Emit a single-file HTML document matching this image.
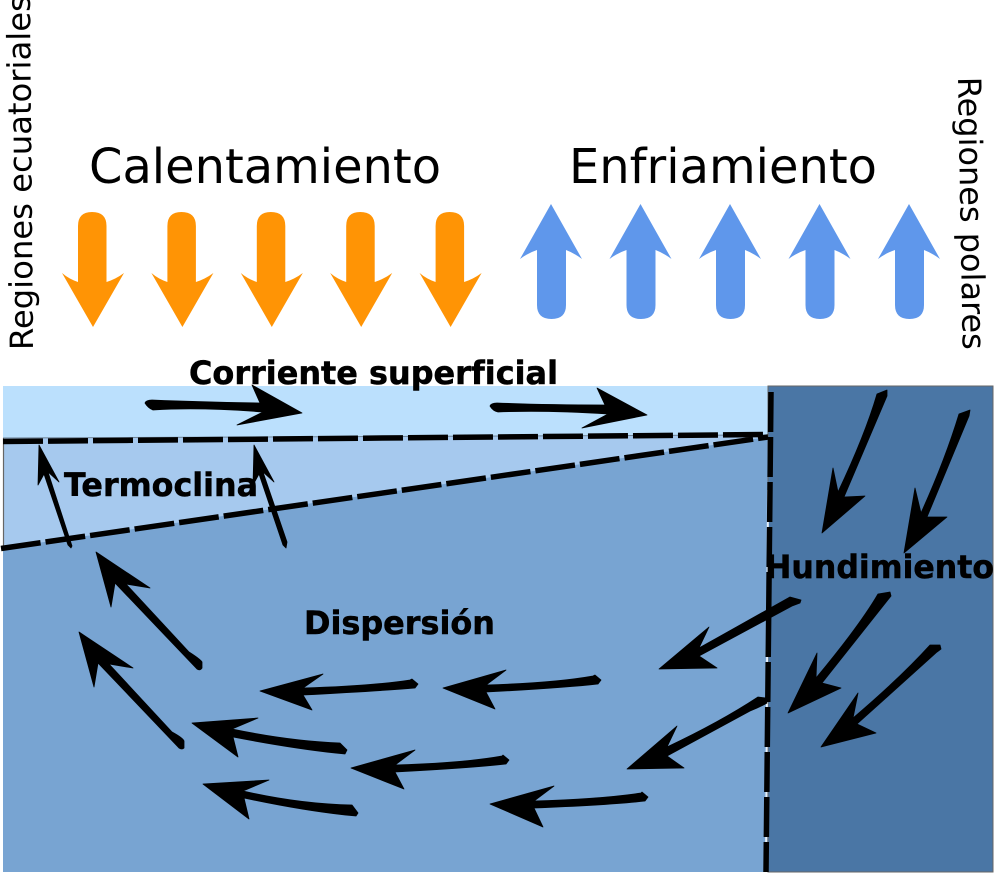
<!DOCTYPE html>
<html>
<head>
<meta charset="utf-8">
<style>
html,body{margin:0;padding:0;background:#fff;}
svg{display:block;}
text{font-family:"DejaVu Sans",sans-serif;fill:#000;font-variant-ligatures:none;}
.b{font-weight:bold;stroke:#000;stroke-width:0.5;}
</style>
</head>
<body>
<svg width="994" height="873" viewBox="0 0 994 873" xmlns="http://www.w3.org/2000/svg">
<defs>
<path id="o" d="M78 226Q78 212 92 212Q106.500 212 106.500 226L106.500 282Q116 279 124 273L93 327L62 273Q69 279 78 282Z" fill="#ff9405"/>
<path id="u" d="M537 305Q537 319 551.500 319Q566 319 566 305L566 250Q574 253 582 259L551 204L520 259Q528 253 537 250Z" fill="#5f97eb"/>
</defs>
<rect x="3" y="386" width="765" height="486" fill="#78a4d2"/>
<rect x="3" y="386" width="765" height="52" fill="#bbe0fd"/>
<polygon points="3,438 768,435 768,437 3,548" fill="#a6c9ee"/>
<path d="M3 438L768 435" stroke="#6f8396" stroke-width="1"/>
<path d="M3.500 438V548" stroke="#666" stroke-width="1.200"/>
<rect x="768" y="386" width="225" height="486" fill="#4a76a5" stroke="#666" stroke-width="1"/>
<path d="M768 490L766 872" stroke="#e8f0f8" stroke-width="2"/>
<use href="#o"/><use href="#o" x="89.400"/><use href="#o" x="178.800"/><use href="#o" x="268.200"/><use href="#o" x="357.600"/>
<use href="#u"/><use href="#u" x="89.500"/><use href="#u" x="179"/><use href="#u" x="268.500"/><use href="#u" x="358"/>
<g fill="none" stroke="#000">
<path d="M3 441.500L768 434.500" stroke-width="5.500" stroke-dasharray="40 5"/>
<path d="M1 548.500L768 437" stroke-width="5.500" stroke-dasharray="40 5"/>
<path d="M771 392L766 872" stroke-width="5.500" stroke-dasharray="40 5"/>
</g>
<g fill="#000" stroke="#000" stroke-width="0.8" stroke-linejoin="round">
<path d="M302 413L252 385L260 403Q200 402 152 400Q146 400 145 403Q148 408 153 410Q200 407 263 412L237 425Z"/>
<path d="M647 415L597 388L605 405Q545 405 497 403Q491 403 490 406Q493 411 498 412Q545 410 608 414L582 428Z"/>
<polygon points="39,445 59,482 48,472 72,546 71,548 68,545 44,474 38,485"/>
<polygon points="254,445 274,482 263,472 287,542 286,548 283,545 259,474 253,485"/>
<path d="M96 552L150 588L126 584L189 652Q200 659 202 662L202 668Q200 671 197 669L115 583L111 607Z"/>
<path d="M79 632L133 668L109 664L172 732Q183 738 184 741L184 748Q182 750 179 748L98 663L94 687Z"/>
<path d="M260 691L323 674L303 688Q370 686 410 680L412 679L418 684L415 688Q380 691 303 695L312 710Z"/>
<path d="M443 688L506 670L486 685Q553 683 593 676L595 675L601 680L598 684Q563 688 486 692L495 709Z"/>
<path d="M192 723L258 718L232 729Q290 741 340 743L347 750L345 754L335 753Q290 748 233 737L238 757Z"/>
<path d="M203 784L269 780L243 791Q300 804 352 805L358 813L356 816L345 815Q300 810 244 798L249 819Z"/>
<path d="M351 768L415 750L395 765Q462 763 502 756L503 755L509 760L506 764Q471 768 395 772L404 789Z"/>
<path d="M490 804L554 786L534 801Q601 799 641 793L642 792L648 797L645 801Q610 805 534 808L543 827Z"/>
<path d="M659 669L709 627L699 648L790 597L801 600L800 603L792 606L699 656L717 668Z"/>
<path d="M627 769L677 726L667 747Q720 722 758 697L766 698L767 703Q760 707 750 711L667 756L684 768Z"/>
<path d="M788 713L817 653L816 678Q860 625 878 594L890 592L891 596L887 601L822 683L841 688Z"/>
<path d="M821 747L858 693L853 718Q900 678 930 645L940 645L941 649L937 652L857 724L876 733Z"/>
<path d="M822 533L833 468L838 492Q865 435 877 394L887 390L887 396L844 497L865 496Z"/>
<path d="M904 553L915 488L921 513Q945 460 959 414L970 410L969 416L927 517L947 517Z"/>
</g>
<text x="89" y="183" font-size="48" textLength="352" lengthAdjust="spacingAndGlyphs">Calentamiento</text>
<text x="569" y="183" font-size="48" textLength="308" lengthAdjust="spacingAndGlyphs">Enfriamiento</text>
<text class="b" x="189" y="384" font-size="32" textLength="369" lengthAdjust="spacingAndGlyphs">Corriente superficial</text>
<text class="b" x="64" y="496" font-size="32" textLength="194" lengthAdjust="spacingAndGlyphs">Termoclina</text>
<text class="b" x="304" y="634" font-size="32" textLength="191" lengthAdjust="spacingAndGlyphs">Dispersión</text>
<text class="b" x="765" y="578" font-size="32" textLength="229" lengthAdjust="spacingAndGlyphs">Hundimiento</text>
<text transform="translate(33,350) rotate(-90.5)" font-size="32" textLength="355" lengthAdjust="spacingAndGlyphs">Regiones ecuatoriales</text>
<text transform="translate(958,77) rotate(89)" font-size="32" textLength="273" lengthAdjust="spacingAndGlyphs">Regiones polares</text>
</svg>
</body>
</html>
